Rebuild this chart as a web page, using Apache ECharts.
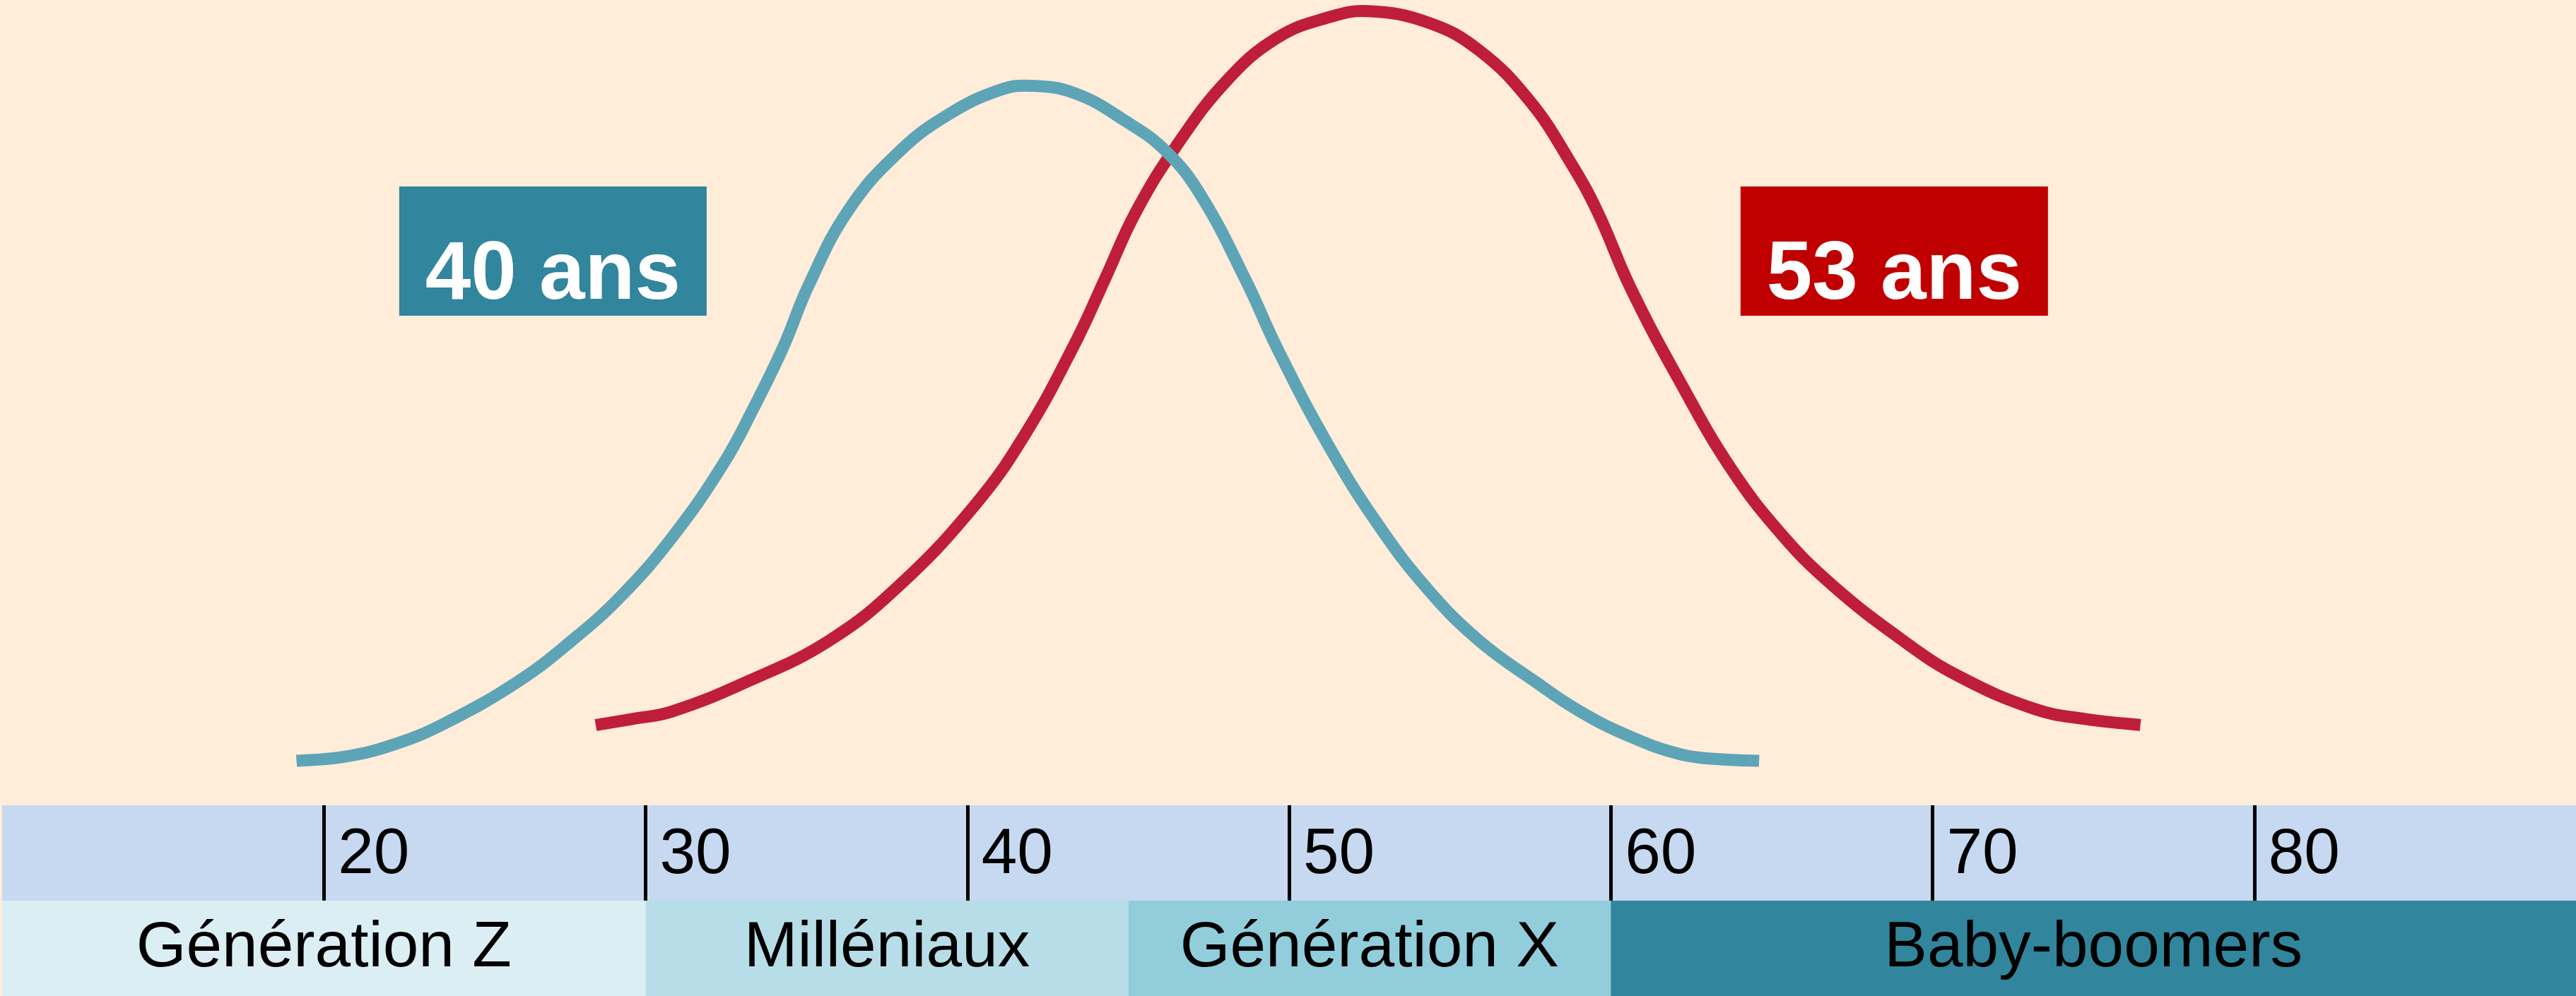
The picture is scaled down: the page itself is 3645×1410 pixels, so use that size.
<!DOCTYPE html>
<html>
<head>
<meta charset="utf-8">
<script src="https://cdn.jsdelivr.net/npm/echarts@6/dist/echarts.min.js"></script>
<style>
html,body{margin:0;padding:0;background:#FFECD9;}
#chart{width:3645px;height:1410px;}
</style>
</head>
<body>
<div id="chart"></div>
<script>
// Age axis
const ageMin = 10, ageMax = 90, ageStep = 10;
const tickLabels = ['20','30','40','50','60','70','80'];

// Blue curve (median 40 ans): [age, relative share]
const blueCurve = [
  [19.15,5.52],[20.63,6.02],[22.20,7.58],[23.77,10.20],[26.05,15.41],[27.70,20.43],
  [29.26,26.06],[30.83,33.30],[32.40,42.30],[33.34,49.20],[34.29,57.00],[35.07,64.60],
  [36.32,74.00],[37.89,81.20],[39.46,85.90],[41.03,88.85],[41.97,89.35],[43.35,88.41],
  [44.92,84.96],[46.18,81.20],[47.28,75.60],[48.69,64.91],[49.63,56.76],[51.20,44.86],
  [52.77,34.83],[54.34,26.69],[55.91,20.43],[57.63,15.41],[59.04,11.66],[60.61,8.52],
  [62.18,6.32],[63.44,5.70],[64.61,5.52]
];
// Red curve (median 53 ans)
const redCurve = [
  [28.45,9.96],[29.58,10.71],[30.83,11.66],[33.19,15.41],[35.70,20.43],[37.89,27.32],
  [40.25,37.34],[41.80,46.10],[43.35,57.39],[44.30,65.54],[45.24,73.68],[46.49,81.83],
  [48.06,89.97],[49.63,95.30],[51.20,97.81],[52.45,98.62],[54.34,97.18],[55.91,93.74],
  [57.48,87.46],[58.73,79.95],[59.59,73.68],[60.61,64.29],[62.18,52.38],[63.75,41.73],
  [65.32,33.59],[66.89,27.32],[69.09,20.43],[70.81,16.04],[73.17,11.96],[74.74,10.71],
  [76.46,9.96]
];

// Generations: [start age, end age]
const genNames = ['Génération Z','Milléniaux','Génération X','Baby-boomers'];
const genStart = [10, 30, 45, 60];
const genEnd   = [30, 45, 60, 90];
const genColors = ['#DBEEF4','#B7DEE8','#92CDDC','#31859C'];

// Annotation boxes: text and anchor [age, value]
const boxTexts = ['40 ans','53 ans'];
const boxAnchors = [[27.12,68.82],[68.81,68.82]];

const genData = genNames.map((n,i)=>[genStart[i], genEnd[i], n]);

const chart = echarts.init(document.getElementById('chart'), null, {renderer:'canvas'});
const font = '"Liberation Sans", Arial, sans-serif';

// Smooth path through data points converted by the axis scales (api.coord)
function curvePath(points, api, s){
  const P = points.map(p => api.coord(p));
  const n = P.length;
  const dist = (a,b) => Math.hypot(b[0]-a[0], b[1]-a[1]);
  const outCp = [], inCp = [];
  for (let i=0;i<n;i++){
    const prev = P[Math.max(0,i-1)], next = P[Math.min(n-1,i+1)];
    const vx = next[0]-prev[0], vy = next[1]-prev[1];
    const d0 = i>0 ? dist(P[i-1],P[i]) : 0;
    const d1 = i<n-1 ? dist(P[i],P[i+1]) : 0;
    const sum = (d0+d1) || 1;
    const k0 = (i===0||i===n-1) ? s*0.5 : s*d0/sum;
    const k1 = (i===0||i===n-1) ? s*0.5 : s*d1/sum;
    inCp[i]  = [P[i][0]-vx*k0, P[i][1]-vy*k0];
    outCp[i] = [P[i][0]+vx*k1, P[i][1]+vy*k1];
  }
  let d = 'M' + P[0][0].toFixed(2) + ' ' + P[0][1].toFixed(2);
  for (let i=0;i<n-1;i++){
    d += ' C' + outCp[i][0].toFixed(2) + ' ' + outCp[i][1].toFixed(2) + ' ' +
         inCp[i+1][0].toFixed(2) + ' ' + inCp[i+1][1].toFixed(2) + ' ' +
         P[i+1][0].toFixed(2) + ' ' + P[i+1][1].toFixed(2);
  }
  return d;
}

function curveSeries(points, color, z){
  return {
    type:'custom', xAxisIndex:0, yAxisIndex:0, data:points, silent:true, z:z,
    encode:{x:0, y:1}, clip:false,
    renderItem:function(params, api){
      if (params.dataIndex !== 0) return null;
      return {type:'path', shape:{pathData:curvePath(points, api, 0.42)},
        style:{stroke:color, lineWidth:17, fill:'none', lineCap:'butt', lineJoin:'round'}};
    }
  };
}

function boxSeries(i, color){
  return {
    type:'scatter', xAxisIndex:0, yAxisIndex:0, data:[boxAnchors[i]], silent:true, z:5,
    symbol:'rect', symbolSize:[435,183], itemStyle:{color:color, opacity:1},
    label:{show:true, position:'inside', formatter:boxTexts[i], color:'#fff',
      fontFamily:font, fontWeight:'bold', fontSize:116, offset:[0,36]}
  };
}

chart.setOption({
  animation:false,
  backgroundColor:'#FFECD9',
  grid:[
    {left:3, right:0, top:0, height:1140},
    {left:3, right:0, top:1140, height:135, show:true, backgroundColor:'#C6D9F1', borderWidth:0},
    {left:3, right:0, top:1275, bottom:0}
  ],
  xAxis:[
    {gridIndex:0, type:'value', min:ageMin, max:ageMax, show:false},
    {gridIndex:1, type:'value', min:ageMin, max:ageMax, interval:ageStep, position:'bottom',
      axisLine:{show:false}, axisTick:{show:false},
      splitLine:{show:true, showMinLine:false, showMaxLine:false, lineStyle:{color:'#000', width:5}},
      axisLabel:{show:true, inside:true, margin:64, showMinLabel:false, showMaxLabel:false,
        align:'left', verticalAlign:'middle', padding:[0,0,0,20],
        color:'#000', fontFamily:font, fontSize:91,
        formatter:(v)=>{ const s=String(v); return tickLabels.indexOf(s)>=0 ? s : ''; }}
    },
    {gridIndex:2, type:'value', min:ageMin, max:ageMax, show:false}
  ],
  yAxis:[
    {gridIndex:0, type:'value', min:0, max:100, show:false},
    {gridIndex:1, type:'value', min:0, max:1, show:false},
    {gridIndex:2, type:'value', min:0, max:1, show:false}
  ],
  series:[
    curveSeries(redCurve, '#BF1E38', 2),
    curveSeries(blueCurve, '#5DA4B7', 3),
    boxSeries(0, '#31859C'),
    boxSeries(1, '#C00000'),
    {type:'custom', xAxisIndex:2, yAxisIndex:2, data:genData, silent:true,
      encode:{x:[0,1]},
      renderItem:function(params, api){
        const s = api.coord([api.value(0), 1]);
        const e = api.coord([api.value(1), 0]);
        return {type:'group', children:[
          {type:'rect', shape:{x:s[0], y:s[1], width:e[0]-s[0], height:e[1]-s[1]},
            style:{fill:genColors[params.dataIndex]}},
          {type:'text', style:{text:genNames[params.dataIndex], x:(s[0]+e[0])/2, y:(s[1]+e[1])/2,
            align:'center', verticalAlign:'middle', fontSize:91, fontFamily:font, fill:'#000'}}
        ]};
      }
    }
  ]
});
</script>
</body>
</html>
